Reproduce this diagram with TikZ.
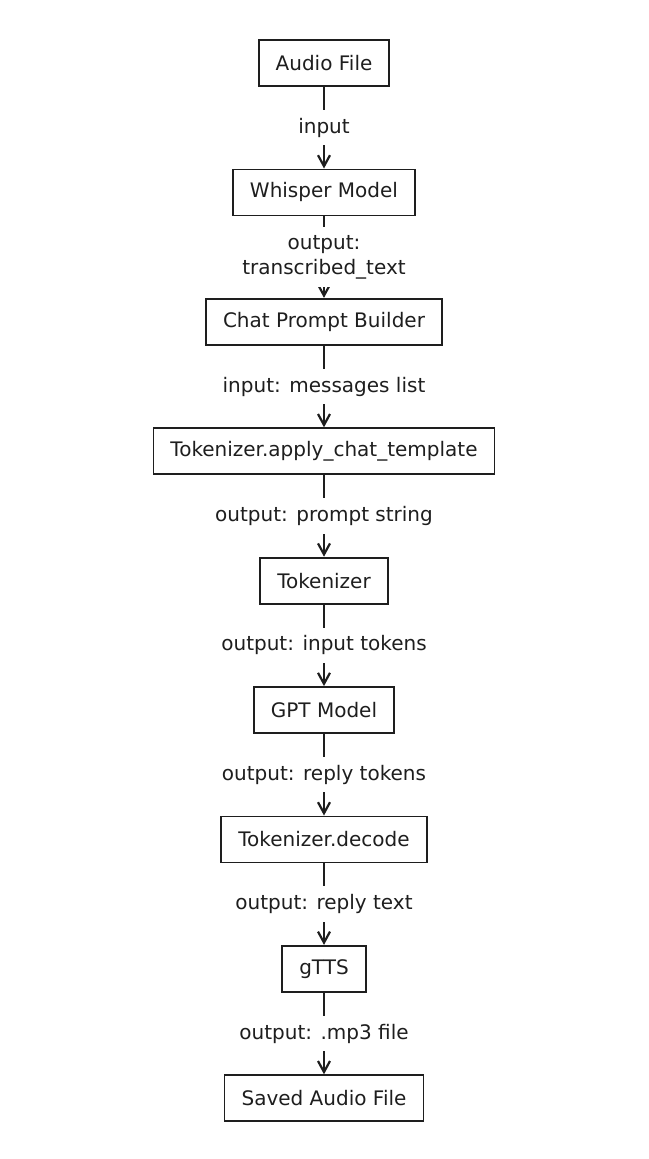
\documentclass[tikz,border=0pt]{standalone}
\usepackage{fontspec}
\setmainfont{DejaVu Sans}
\usetikzlibrary{arrows.meta}
\usetikzlibrary{positioning}

\definecolor{ink}{HTML}{1E1E1E}

\tikzset{
    stagebox/.style={draw=ink, line width=1.8pt, text=ink, font=\fontsize{20}{24}\selectfont,
        minimum height=46pt, inner xsep=17pt},
    flowarrow/.style={draw=ink, line width=2.4pt, arrows={-Straight Barb[length=11pt,width=12pt,line width=2.2pt]}},
    flowlabel/.style={fill=white, text=ink, font=\fontsize{20}{25}\selectfont, inner xsep=2pt, inner ysep=8pt, align=center}
}

\begin{document}
\begin{tikzpicture}[x=1pt, y=1pt, node distance=81.6pt]
    \useasboundingbox (0,0) rectangle (648,-1159);

    \node[stagebox] (audio) at (324,-63) {Audio File};
    \node[stagebox, below=of audio] (whisper) {Whisper Model};
    \node[stagebox, below=of whisper] (prompt) {Chat Prompt Builder};
    \node[stagebox, below=of prompt] (template) {Tokenizer.apply\_chat\_template};
    \node[stagebox, below=of template] (tokenizer) {Tokenizer};
    \node[stagebox, below=of tokenizer] (gpt) {GPT Model};
    \node[stagebox, below=of gpt] (decode) {Tokenizer.decode};
    \node[stagebox, below=of decode] (gtts) {gTTS};
    \node[stagebox, below=of gtts] (saved) {Saved Audio File};

    \draw[flowarrow] (audio) -- node[flowlabel] {input} (whisper);
    \draw[flowarrow] (whisper) -- node[flowlabel] {output:\\transcribed\_text} (prompt);
    \draw[flowarrow] (prompt) -- node[flowlabel] {input: messages list} (template);
    \draw[flowarrow] (template) -- node[flowlabel] {output: prompt string} (tokenizer);
    \draw[flowarrow] (tokenizer) -- node[flowlabel] {output: input tokens} (gpt);
    \draw[flowarrow] (gpt) -- node[flowlabel] {output: reply tokens} (decode);
    \draw[flowarrow] (decode) -- node[flowlabel] {output: reply text} (gtts);
    \draw[flowarrow] (gtts) -- node[flowlabel] {output: .mp3 file} (saved);
\end{tikzpicture}
\end{document}
